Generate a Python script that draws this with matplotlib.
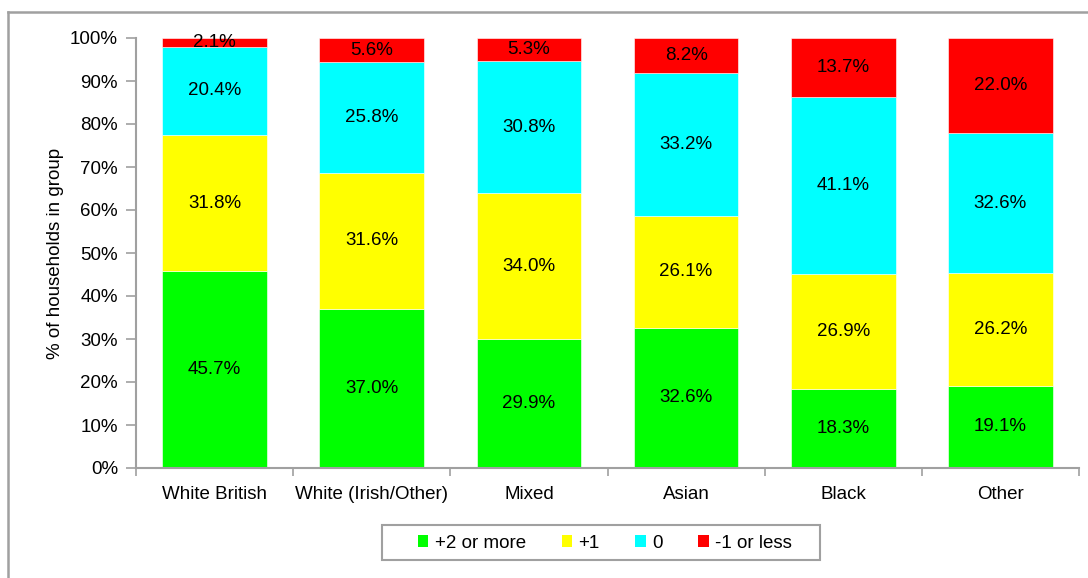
import matplotlib
matplotlib.use("Agg")
import matplotlib.pyplot as plt
from matplotlib.lines import Line2D
from matplotlib.patches import Patch, Rectangle
import numpy as np

plt.rcParams['font.family'] = ['Liberation Sans', 'DejaVu Sans']

categories = ["White British", "White (Irish/Other)", "Mixed", "Asian", "Black", "Other"]
series_names = ["+2 or more", "+1", "0", "-1 or less"]
plus2 = [45.7, 37.0, 29.9, 32.6, 18.3, 19.1]
plus1 = [31.8, 31.6, 34.0, 26.1, 26.9, 26.2]
zero = [20.4, 25.8, 30.8, 33.2, 41.1, 32.6]
minus1 = [2.1, 5.6, 5.3, 8.2, 13.7, 22.0]
colors = ["#00ff00", "#ffff00", "#00ffff", "#ff0000"]
ytick_labels = [f"{v}%" for v in range(0, 101, 10)]

W, H = 1088, 578
fig = plt.figure(figsize=(W / 100, H / 100), dpi=100)
ax = fig.add_axes([136 / W, 1 - 468 / H, (1079 - 136) / W, (468 - 38) / H])

grey = "#a0a0a0"
fs = 13.5
x = np.arange(len(categories))
bottom = np.zeros(len(categories))
for name, vals, c in zip(series_names, [plus2, plus1, zero, minus1], colors):
    vals = np.array(vals)
    ax.bar(x, vals, width=0.667, bottom=bottom, color=c, label=name,
           edgecolor="white", linewidth=0.4)
    for xi, b, v in zip(x, bottom, vals):
        top = min(b + v, 100)
        ax.text(xi, (b + top) / 2, f"{v:.1f}%", ha="center", va="center",
                fontsize=fs, color="black")
    bottom += vals

ax.set_xlim(-0.5, len(categories) - 0.5)
ax.set_ylim(0, 100)
ax.set_yticks(np.arange(0, 101, 10))
ax.set_yticklabels(ytick_labels, fontsize=fs)
ax.set_xticks(x)
ax.set_xticklabels(categories, fontsize=fs)
ax.tick_params(axis="x", length=0, pad=13)
ax.tick_params(axis="y", length=7, width=1.2, color=grey, pad=6)
ax.set_xticks(np.arange(-0.5, len(categories), 1), minor=True)
ax.tick_params(axis="x", which="minor", length=6, width=1.2, color=grey)
ax.tick_params(axis="y", which="minor", length=0)

for side in ["top", "right"]:
    ax.spines[side].set_visible(False)
for side in ["left", "bottom"]:
    ax.spines[side].set_color(grey)
    ax.spines[side].set_linewidth(1.5)

ax.set_ylabel("% of households in group", fontsize=fs, labelpad=4)

# legend entries without frame, box drawn separately
handles = [Patch(facecolor=c, edgecolor="none") for c in colors]
fig.legend(handles, series_names, loc="center",
           bbox_to_anchor=(605 / W, 1 - 543 / H), ncol=4, fontsize=fs,
           frameon=False, handlelength=0.55, handleheight=0.55,
           handletextpad=0.35, columnspacing=1.9, borderpad=0, borderaxespad=0)
fig.add_artist(Rectangle((382 / W, 1 - 560 / H), (820 - 382) / W, 35 / H,
                         transform=fig.transFigure, facecolor="none",
                         edgecolor=grey, linewidth=1.5))

# outer chart frame (left and top edges)
fig.add_artist(Line2D([8 / W, 8 / W], [0, 1 - 12 / H], transform=fig.transFigure,
                      color=grey, linewidth=1.8))
fig.add_artist(Line2D([8 / W, 1], [1 - 12 / H, 1 - 12 / H], transform=fig.transFigure,
                      color=grey, linewidth=1.8))

fig.savefig("out.png", dpi=100)
